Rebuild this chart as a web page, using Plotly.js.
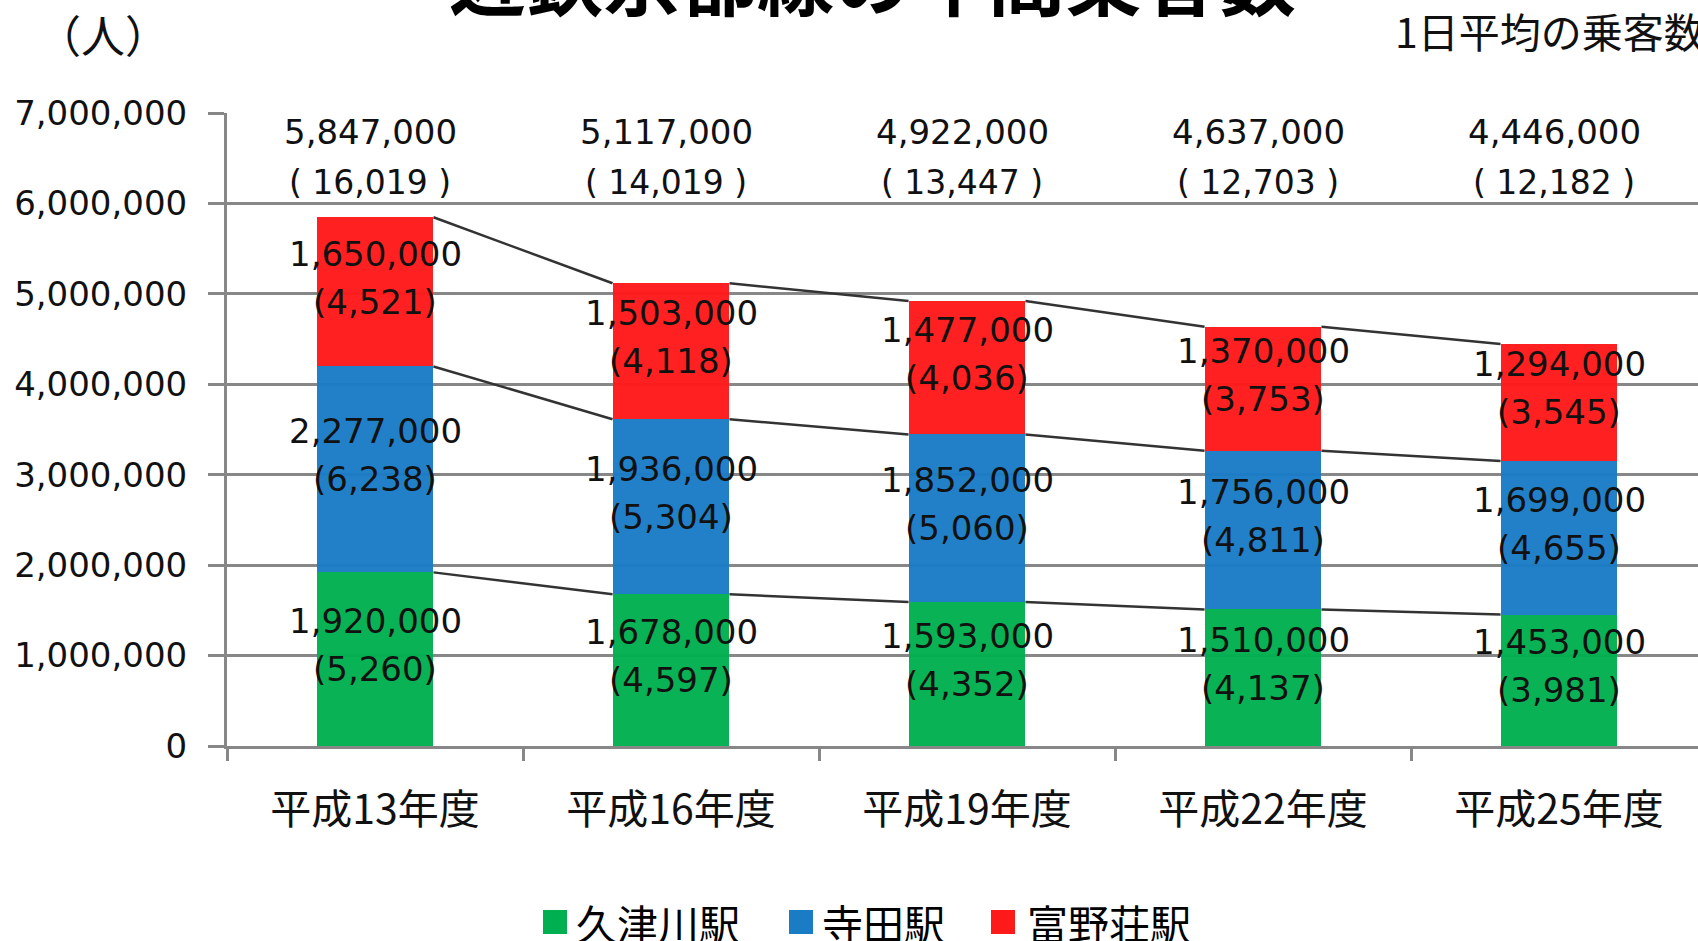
<!DOCTYPE html>
<html>
<head>
<meta charset="utf-8">
<script src="https://cdn.plot.ly/plotly-3.0.1.min.js"></script>
<style>
html, body { margin: 0; padding: 0; overflow: hidden; background: #fff; }
#chart { width: 1707px; height: 941px; }
</style>
</head>
<body>
<div id="chart"></div>
<script>
// ---- data ----
const categories = ['平成13年度', '平成16年度', '平成19年度', '平成22年度', '平成25年度'];
const seriesNames = ['久津川駅', '寺田駅', '富野荘駅'];
const seriesColors = ['#00B050', '#1B7CC6', '#FF1A1A'];
const kutsugawa = [1920000, 1678000, 1593000, 1510000, 1453000];
const kutsugawaDaily = [5260, 4597, 4352, 4137, 3981];
const terada = [2277000, 1936000, 1852000, 1756000, 1699000];
const teradaDaily = [6238, 5304, 5060, 4811, 4655];
const tomionosho = [1650000, 1503000, 1477000, 1370000, 1294000];
const tomionoshoDaily = [4521, 4118, 4036, 3753, 3545];
const totals = [5847000, 5117000, 4922000, 4637000, 4446000];
const totalsDaily = [16019, 14019, 13447, 12703, 12182];
const yTickVals = [0, 1000000, 2000000, 3000000, 4000000, 5000000, 6000000, 7000000];

// ---- layout constants ----
const W = 1707, H = 941;
const M = { l: 227, r: 0, t: 113, b: 195 };
const PW = W - M.l - M.r, PH = H - M.t - M.b;
const px2x = p => (p - M.l) / PW;
const py2y = p => (H - M.b - p) / PH;
const BARGAP = 0.605;
const NUM_FONT = 'DejaVu Sans';
const CJK_FONT = 'Noto Sans CJK JP';
const TXT = '#111';
const fmt = n => n.toLocaleString('en-US');

const values = [kutsugawa, terada, tomionosho];
const daily = [kutsugawaDaily, teradaDaily, tomionoshoDaily];

const traces = values.map((v, k) => ({
  type: 'bar',
  name: seriesNames[k],
  x: categories,
  y: v,
  marker: { color: seriesColors[k], opacity: 0.97, line: { width: 0 } },
  hoverinfo: 'skip'
}));

const shapes = [];
const annotations = [];
const half = (1 - BARGAP) / 2;
let cum = categories.map(() => 0);
values.forEach((v, k) => {
  const base = cum.slice();
  cum = cum.map((c, i) => c + v[i]);
  // segment labels (value + daily average)
  categories.forEach((c, i) => {
    const mid = base[i] + v[i] / 2;
    annotations.push({
      x: c, xref: 'x', y: mid, yref: 'y', xanchor: 'center', yanchor: 'middle',
      yshift: 38, text: fmt(v[i]), showarrow: false,
      font: { family: NUM_FONT, size: 34, color: TXT }
    });
    annotations.push({
      x: c, xref: 'x', y: mid, yref: 'y', xanchor: 'center', yanchor: 'middle',
      yshift: -10, text: '(' + fmt(daily[k][i]) + ')', showarrow: false,
      font: { family: NUM_FONT, size: 34, color: TXT }
    });
  });
  // connector lines between stacked segment tops
  for (let i = 0; i < categories.length - 1; i++) {
    shapes.push({
      type: 'line', xref: 'x', yref: 'y',
      x0: i + half, x1: i + 1 - half,
      y0: cum[i], y1: cum[i + 1],
      line: { color: '#333', width: 2.5 }, layer: 'above'
    });
  }
});

// totals above bars
categories.forEach((c, i) => {
  annotations.push({
    x: c, xref: 'x', y: py2y(132), yref: 'paper', xanchor: 'center', yanchor: 'middle',
    xshift: -5, text: fmt(totals[i]), showarrow: false,
    font: { family: NUM_FONT, size: 34, color: TXT }
  });
  annotations.push({
    x: c, xref: 'x', y: py2y(182), yref: 'paper', xanchor: 'center', yanchor: 'middle',
    xshift: -5, text: '( ' + fmt(totalsDaily[i]) + ' )', showarrow: false,
    font: { family: NUM_FONT, size: 33, color: TXT }
  });
});
// title (cut off at top in reference)
annotations.push({
  x: px2x(872), xref: 'paper', y: py2y(-24), yref: 'paper', xanchor: 'center', yanchor: 'middle',
  text: '近鉄京都線の年間乗客数', showarrow: false,
  font: { family: CJK_FONT, size: 77, weight: 'bold', color: '#000' }
});
annotations.push({
  x: px2x(103), xref: 'paper', y: py2y(34), yref: 'paper', xanchor: 'center', yanchor: 'middle',
  text: '（人）', showarrow: false,
  font: { family: CJK_FONT, size: 44, color: TXT }
});
annotations.push({
  x: px2x(1393), xref: 'paper', xanchor: 'left', y: py2y(30), yref: 'paper', yanchor: 'middle',
  text: '1日平均の乗客数', showarrow: false,
  font: { family: CJK_FONT, size: 41, color: TXT }
});
// custom legend
const legendSquareX = [555, 801, 1003];
const legendTextX = [574, 820, 1025];
const legendY = 922;
seriesNames.forEach((n, k) => {
  shapes.push({
    type: 'rect', xref: 'paper', yref: 'paper',
    xsizemode: 'pixel', ysizemode: 'pixel',
    xanchor: px2x(legendSquareX[k]), yanchor: py2y(legendY),
    x0: -12, x1: 12, y0: -12, y1: 12,
    fillcolor: seriesColors[k], line: { width: 0 }
  });
  annotations.push({
    x: px2x(legendTextX[k]), xref: 'paper', xanchor: 'left',
    y: py2y(legendY), yref: 'paper', yanchor: 'middle',
    text: n, showarrow: false,
    font: { family: CJK_FONT, size: 41, color: '#000' }
  });
});

const layout = {
  width: W, height: H,
  margin: M,
  barmode: 'stack',
  bargap: BARGAP,
  showlegend: false,
  paper_bgcolor: '#fff',
  plot_bgcolor: '#fff',
  xaxis: {
    type: 'category',
    showline: true, linecolor: '#878787', linewidth: 3,
    ticks: 'outside', tickson: 'boundaries', ticklen: 12, tickwidth: 3, tickcolor: '#878787',
    tickfont: { family: CJK_FONT, size: 41, color: TXT },
    ticklabelstandoff: 26,
    showgrid: false, zeroline: false
  },
  yaxis: {
    range: [0, 7000000],
    tickvals: yTickVals,
    ticktext: yTickVals.map(fmt),
    showgrid: true, gridcolor: '#878787', gridwidth: 3,
    showline: true, linecolor: '#878787', linewidth: 3,
    ticks: 'outside', ticklen: 16, tickwidth: 3, tickcolor: '#878787',
    tickfont: { family: NUM_FONT, size: 34, color: TXT },
    ticklabelstandoff: 14,
    zeroline: false
  },
  shapes: shapes,
  annotations: annotations
};

Plotly.newPlot('chart', traces, layout, { displayModeBar: false, staticPlot: true });
</script>
</body>
</html>
